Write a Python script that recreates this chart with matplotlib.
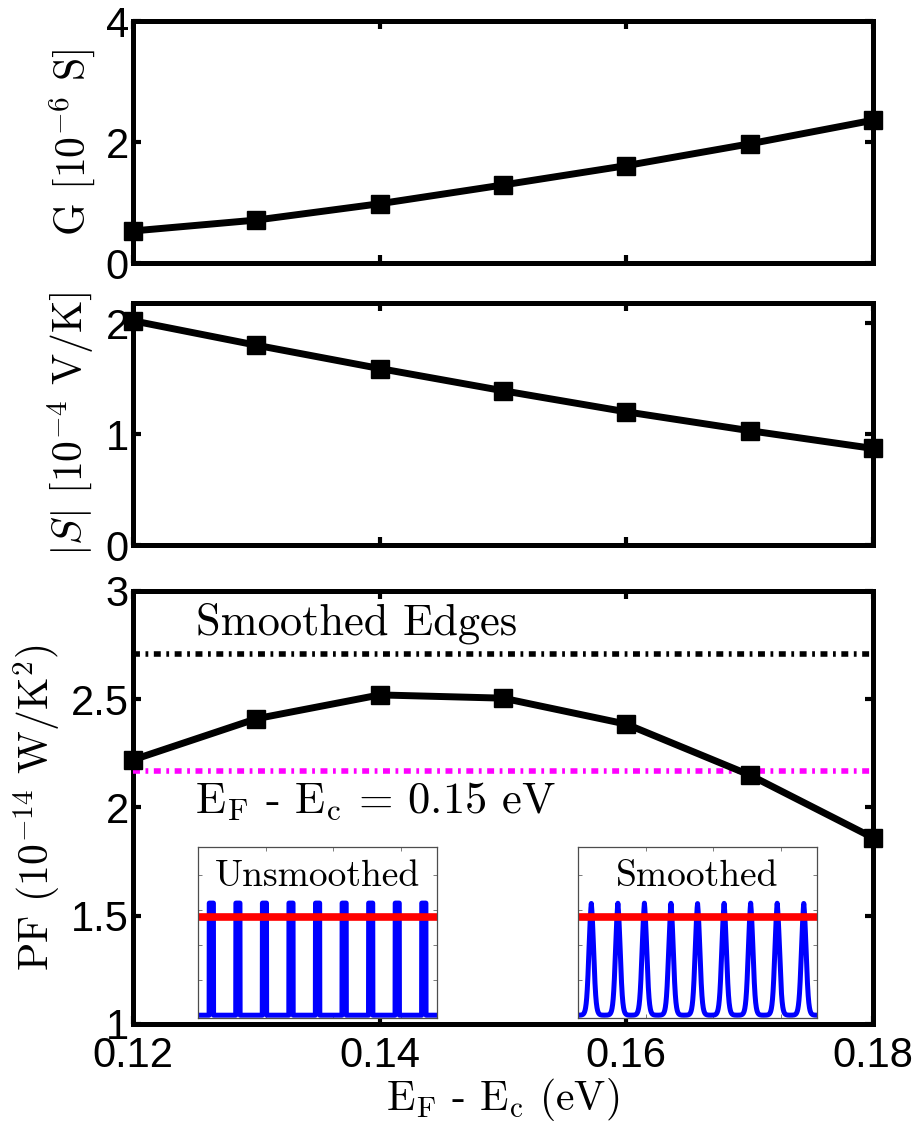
import numpy as np
import matplotlib.pyplot as plt

plt.rcParams["mathtext.fontset"] = "cm"
plt.rcParams["lines.scale_dashes"] = False

# --- data ---------------------------------------------------------------
ef = [0.12, 0.13, 0.14, 0.15, 0.16, 0.17, 0.18]
G = [0.53, 0.71, 0.98, 1.29, 1.61, 1.97, 2.36]          # 1e-6 S
S = [2.02, 1.80, 1.59, 1.39, 1.20, 1.03, 0.87]          # 1e-4 V/K
PF = [2.22, 2.41, 2.52, 2.505, 2.385, 2.15, 1.86]       # 1e-14 W/K^2
pf_smoothed_edges = 2.71
pf_ef_015 = 2.17

# inset: DOS peak centres and heights (arb. units)
peak_centres = [0.5, 1.5, 2.5, 3.5, 4.5, 5.5, 6.5, 7.5, 8.5]
peak_height = 0.8
fermi_level = 0.7

# --- styling helpers ----------------------------------------------------
tick_font = {"family": "Liberation Sans", "size": 30}
label_kw = dict(fontfamily="cmr10", fontsize=30)
note_kw = dict(fontfamily="cmr10", fontsize=32)
dashdot = (0, (5, 4, 2, 4))


def style_axes(ax):
    for sp in ax.spines.values():
        sp.set_linewidth(3.6)
    ax.tick_params(direction="in", length=6, width=3, top=True, right=True)
    ax.tick_params(axis="x", pad=9)
    ax.tick_params(axis="y", pad=3)
    for lab in ax.get_xticklabels() + ax.get_yticklabels():
        lab.set_fontfamily(tick_font["family"])
        lab.set_fontsize(tick_font["size"])


fig = plt.figure(figsize=(9.13, 11.24), dpi=100)
ax1 = fig.add_axes([0.1457, 0.766, 0.8105, 0.2153])
ax2 = fig.add_axes([0.1457, 0.5151, 0.8105, 0.2153])
ax3 = fig.add_axes([0.1457, 0.089, 0.8105, 0.3852])

line_kw = dict(color="black", lw=5, marker="s", ms=12.5, mfc="black",
               mec="black", clip_on=False, zorder=5)

# G panel
ax1.plot(ef, G, **line_kw)
ax1.set_ylim(0, 4)
ax1.set_yticks([0, 2, 4])
ax1.set_ylabel("G [10$^{-6}$ S]", labelpad=6, **label_kw)

# Seebeck panel
ax2.plot(ef, S, **line_kw)
ax2.set_ylim(0, 2.18)
ax2.set_yticks([0, 1, 2])
ax2.set_ylabel("$|S|$ [10$^{-4}$ V/K]", labelpad=6, **label_kw)

# power factor panel
ax3.axhline(pf_smoothed_edges, color="black", lw=4, linestyle=dashdot, zorder=3)
ax3.axhline(pf_ef_015, color="magenta", lw=4, linestyle=dashdot, zorder=3)
ax3.plot(ef, PF, **line_kw)
ax3.set_ylim(1, 3)
ax3.set_yticks([1, 1.5, 2, 2.5, 3])
ax3.set_yticklabels(["1", "1.5", "2", "2.5", "3"])
ax3.set_ylabel("PF (10$^{-14}$ W/K$^2$)", labelpad=6, **label_kw)
ax3.set_xlabel("E$_\\mathrm{F}$ - E$_\\mathrm{c}$ (eV)", labelpad=0, **label_kw)
ax3.text(0.1251, 2.80, "Smoothed Edges", va="baseline", ha="left", **note_kw)
ax3.text(0.1250, 1.975, "E$_\\mathrm{F}$ - E$_\\mathrm{c}$ = 0.15 eV",
         va="baseline", ha="left", **note_kw)

for ax in (ax1, ax2, ax3):
    ax.set_xlim(0.12, 0.18)
    ax.set_xticks([0.12, 0.14, 0.16, 0.18])
for ax in (ax1, ax2):
    ax.set_xticklabels([])
ax3.set_xticklabels(["0.12", "0.14", "0.16", "0.18"])
for ax in (ax1, ax2, ax3):
    style_axes(ax)

# --- insets -------------------------------------------------------------
xs = np.linspace(0, 9, 3000)
unsmoothed = np.zeros_like(xs)
smoothed = np.zeros_like(xs)
edge = 1 / (1 + np.exp(-0.09 / 0.045))
for c in peak_centres:
    unsmoothed[np.abs(xs - c) < 0.08] = peak_height
    smoothed += peak_height / (1 + np.exp((np.abs(xs - c) - 0.09) / 0.045)) / edge
smoothed = np.minimum(smoothed, peak_height)

for left, curve, title in [(0.2169, unsmoothed, "Unsmoothed"),
                           (0.6331, smoothed, "Smoothed")]:
    ins = fig.add_axes([left, 0.0943, 0.2618, 0.1521])
    ins.plot(xs, curve, color="blue", lw=3.6)
    ins.axhline(fermi_level, color="red", lw=5.5)
    ins.set_xlim(0, 9)
    ins.set_ylim(-0.02, 1.2)
    ins.set_xticks([2.55, 5.1, 7.65])
    ins.set_yticks([0.25, 0.5, 0.75, 1.0])
    ins.tick_params(direction="in", length=3, width=0.6, top=True, right=True,
                    labelbottom=False, labelleft=False, colors="0.4")
    for sp in ins.spines.values():
        sp.set_linewidth(0.9)
        sp.set_color("0.3")
    ins.text(0.5, 0.83, title, transform=ins.transAxes, ha="center",
             va="center", fontfamily="cmr10", fontsize=27)

fig.savefig("out.png", dpi=100)
